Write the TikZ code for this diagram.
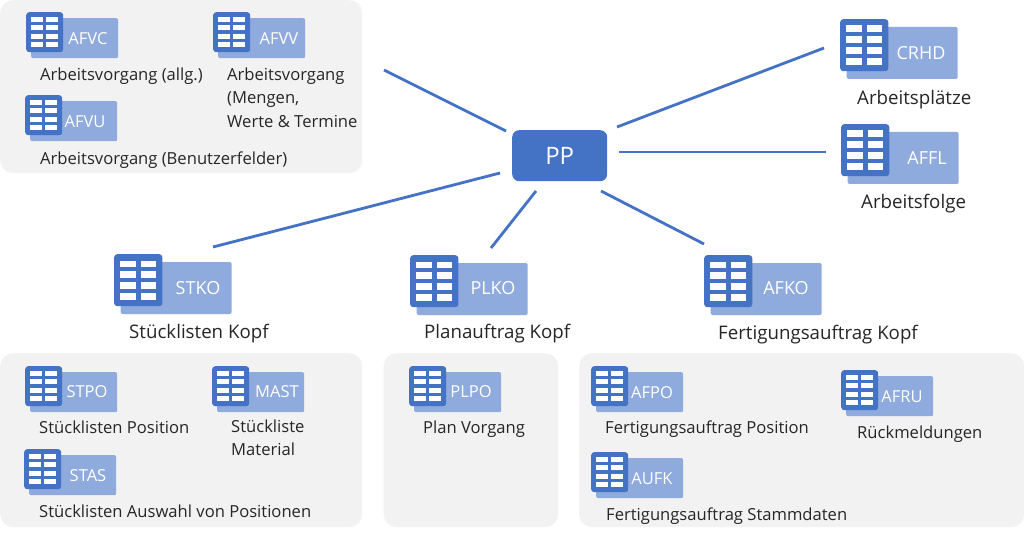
\documentclass[tikz,border=0pt]{standalone}
\usepackage{fontspec}
\setmainfont{Open Sans}
\definecolor{dk}{HTML}{4472C4}
\definecolor{lt}{HTML}{8FAADC}
\definecolor{pan}{HTML}{F2F2F2}
\definecolor{tx}{HTML}{262626}
\tikzset{
 panelbox/.style={fill=pan,draw=none,rounded corners=13pt},
 conn/.style={draw=dk,line width=2.8pt},
 lbl/.style={anchor=base west,text=tx,font=\fontsize{#1}{23.3}\selectfont,inner sep=0pt,align=left},
 lbl/.default=16.6,
 ppbox/.style={fill=dk,rounded corners=7pt,draw=none,text=white,minimum width=95pt,minimum height=51pt,inner sep=0pt,font=\fontsize{24}{24}\selectfont},
}
% #1 name, #2 x, #3 y, #4 scale, #5 light width, #6 text, #7 font size, #8 #9 text centre
\newcommand{\tbl}[9]{%
 \begin{scope}[shift={(#2,#3)}]
  \node[fill=lt,rounded corners=2pt,inner sep=0pt,minimum width=#5*1pt,minimum height=40pt*#4,anchor=north west] (#1bg) at (5*#4,6*#4) {};
  \node[fill=dk,rounded corners=3pt,inner sep=0pt,minimum width=37pt*#4,minimum height=40pt*#4,anchor=north west] (#1ic) at (0,0) {};
  \foreach \cx in {4.6,20.4}{\foreach \cy in {5,13.2,21.6,30}{
   \fill[white] (\cx*#4,\cy*#4) rectangle ++(12*#4,5.2*#4);}}
 \end{scope}
 \node[text=white,inner sep=0pt,font=\fontsize{#7}{#7}\selectfont] (#1) at (#8,#9) {#6};}
\begin{document}
\begin{tikzpicture}[x=1pt,y=-1pt]
\useasboundingbox (0,0) rectangle (1024,537);
\fill[white] (0,0) rectangle (1024,537);
\node[panelbox,minimum width=362pt,minimum height=173pt,anchor=north west] (p1) at (0,0) {};
\node[panelbox,minimum width=362pt,minimum height=174pt,anchor=north west] (p2) at (0,353) {};
\node[panelbox,minimum width=174.5pt,minimum height=174pt,anchor=north west] (p3) at (383.5,353) {};
\node[panelbox,minimum width=445pt,minimum height=174pt,anchor=north west] (p4) at (579,353) {};

\node[ppbox,anchor=north west] (pp) at (512,130) {PP};

\coordinate (a1) at (506,131); \coordinate (b1) at (384,70);
\coordinate (a2) at (617,127); \coordinate (b2) at (824,48);
\coordinate (a3) at (619,152); \coordinate (b3) at (826,152);
\coordinate (a4) at (601,191); \coordinate (b4) at (704,244);
\coordinate (a5) at (536,191); \coordinate (b5) at (491,248);
\coordinate (a6) at (500,173); \coordinate (b6) at (213,247);
\foreach \i in {1,...,6}{\draw[conn] (a\i) -- (b\i);}

\tbl{afvc}{26}{12}{1}{87}{AFVC}{16.5}{88}{39}
\tbl{afvv}{213}{12}{1}{87}{AFVV}{16.5}{279}{39}
\tbl{afvu}{25}{95}{1}{87}{AFVU}{16.5}{85}{122}
\node[lbl] (t1) at (40,81) {Arbeitsvorgang (allg.)};
\node[lbl,anchor=west] (t2) at (227,97.5) {Arbeitsvorgang\\(Mengen,\\Werte \& Termine};
\node[lbl] (t3) at (40,165) {Arbeitsvorgang (Benutzerfelder)};

\tbl{crhd}{840}{19}{1.3}{111}{CRHD}{18}{921}{53}
\tbl{affl}{841}{124}{1.3}{111}{AFFL}{18}{927}{158}
\node[lbl=18.7] (t4) at (857,105) {Arbeitsplätze};
\node[lbl=18.7] (t5) at (861,209) {Arbeitsfolge};

\tbl{stko}{114}{254}{1.3}{111}{STKO}{18}{198}{288.5}
\tbl{plko}{410}{255}{1.3}{111}{PLKO}{18}{493}{288.5}
\tbl{afko}{704}{255}{1.3}{111}{AFKO}{18}{786}{288.5}
\node[lbl=18.7] (t6) at (129,338) {Stücklisten Kopf};
\node[lbl=18.7] (t7) at (424,338) {Planauftrag Kopf};
\node[lbl=18.7] (t8) at (718,339) {Fertigungsauftrag Kopf};

\tbl{stpo}{25}{366}{1}{87}{STPO}{16.5}{87}{392}
\tbl{mast}{212}{366}{1}{87}{MAST}{16.5}{277}{392}
\tbl{stas}{24}{449}{1}{87}{STAS}{16.5}{88}{476}
\node[lbl] (t9) at (39,433) {Stücklisten Position};
\node[lbl,anchor=west] (t10) at (231,438) {Stückliste\\Material};
\node[lbl] (t11) at (39,517) {Stücklisten Auswahl von Positionen};

\tbl{plpo}{409}{366}{1}{87}{PLPO}{16.5}{471}{392}
\node[lbl] (t12) at (423,433) {Plan Vorgang};

\tbl{afpo}{591}{366}{1}{87}{AFPO}{16.5}{652}{393}
\tbl{afru}{841}{370}{1}{87}{AFRU}{16.5}{902}{397}
\tbl{aufk}{591}{452}{1}{87}{AUFK}{16.5}{652}{479}
\node[lbl] (t13) at (605,433) {Fertigungsauftrag Position};
\node[lbl] (t14) at (857,438) {Rückmeldungen};
\node[lbl] (t15) at (606,520) {Fertigungsauftrag Stammdaten};
\end{tikzpicture}
\end{document}
